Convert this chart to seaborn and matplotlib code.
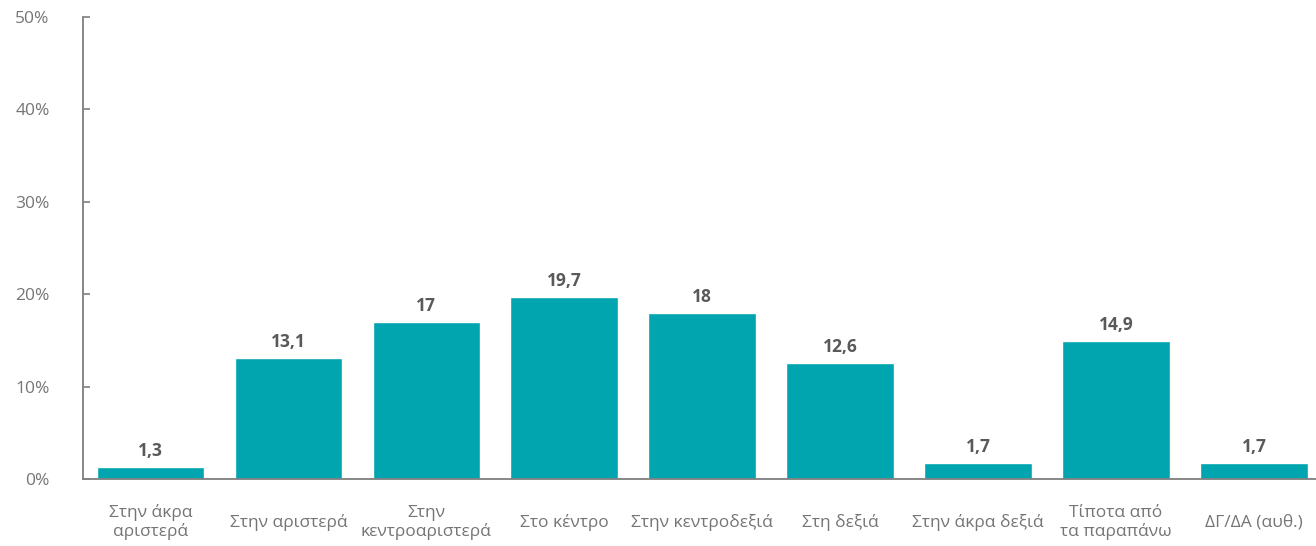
import pandas as pd
import matplotlib
matplotlib.use("Agg")
import matplotlib.pyplot as plt
import seaborn as sns
from matplotlib.ticker import FuncFormatter

categories = [
    "Στην άκρα\nαριστερά",
    "Στην αριστερά",
    "Στην\nκεντροαριστερά",
    "Στο κέντρο",
    "Στην κεντροδεξιά",
    "Στη δεξιά",
    "Στην άκρα δεξιά",
    "Τίποτα από\nτα παραπάνω",
    "ΔΓ/ΔΑ (αυθ.)",
]
values = [1.3, 13.1, 17, 19.7, 18, 12.6, 1.7, 14.9, 1.7]
y_ticks = [0, 10, 20, 30, 40, 50]

sns.set_style("white")
plt.rcParams["font.family"] = ["Open Sans", "DejaVu Sans"]

bar_color = "#00A5B0"
text_grey = "#757575"
axis_grey = "#7f7f7f"

df = pd.DataFrame({"category": categories, "value": values})

fig = plt.figure(figsize=(13.16, 5.46), dpi=100)
ax = fig.add_axes([0.063, 0.1227, 0.937, 0.8462])

sns.barplot(data=df, x="category", y="value", color=bar_color,
            saturation=1, width=0.78, ax=ax)

for c in ax.containers:
    ax.bar_label(c, labels=[f"{v:g}".replace(".", ",") for v in values],
                 padding=5, fontsize=12.5, fontweight="bold", color="#595959")

ax.set_xlim(-0.49, 8.45)
ax.set_ylim(0, 50)
ax.set_yticks(y_ticks)
ax.yaxis.set_major_formatter(FuncFormatter(lambda v, p: f"{v:.0f}%"))
ax.set_xlabel("")
ax.set_ylabel("")

sns.despine(ax=ax)
for s in ["left", "bottom"]:
    ax.spines[s].set_color(axis_grey)
    ax.spines[s].set_linewidth(1.3)

ax.tick_params(axis="y", left=True, direction="in", length=5, width=1.2,
               color=axis_grey, pad=24, labelsize=12.5, labelcolor=text_grey)
ax.tick_params(axis="x", length=0, pad=31, labelsize=12.5, labelcolor=text_grey)
for lab in ax.get_xticklabels():
    lab.set_verticalalignment("center")
    lab.set_multialignment("center")
    lab.set_linespacing(1.15)

fig.savefig("out.png", dpi=100)
